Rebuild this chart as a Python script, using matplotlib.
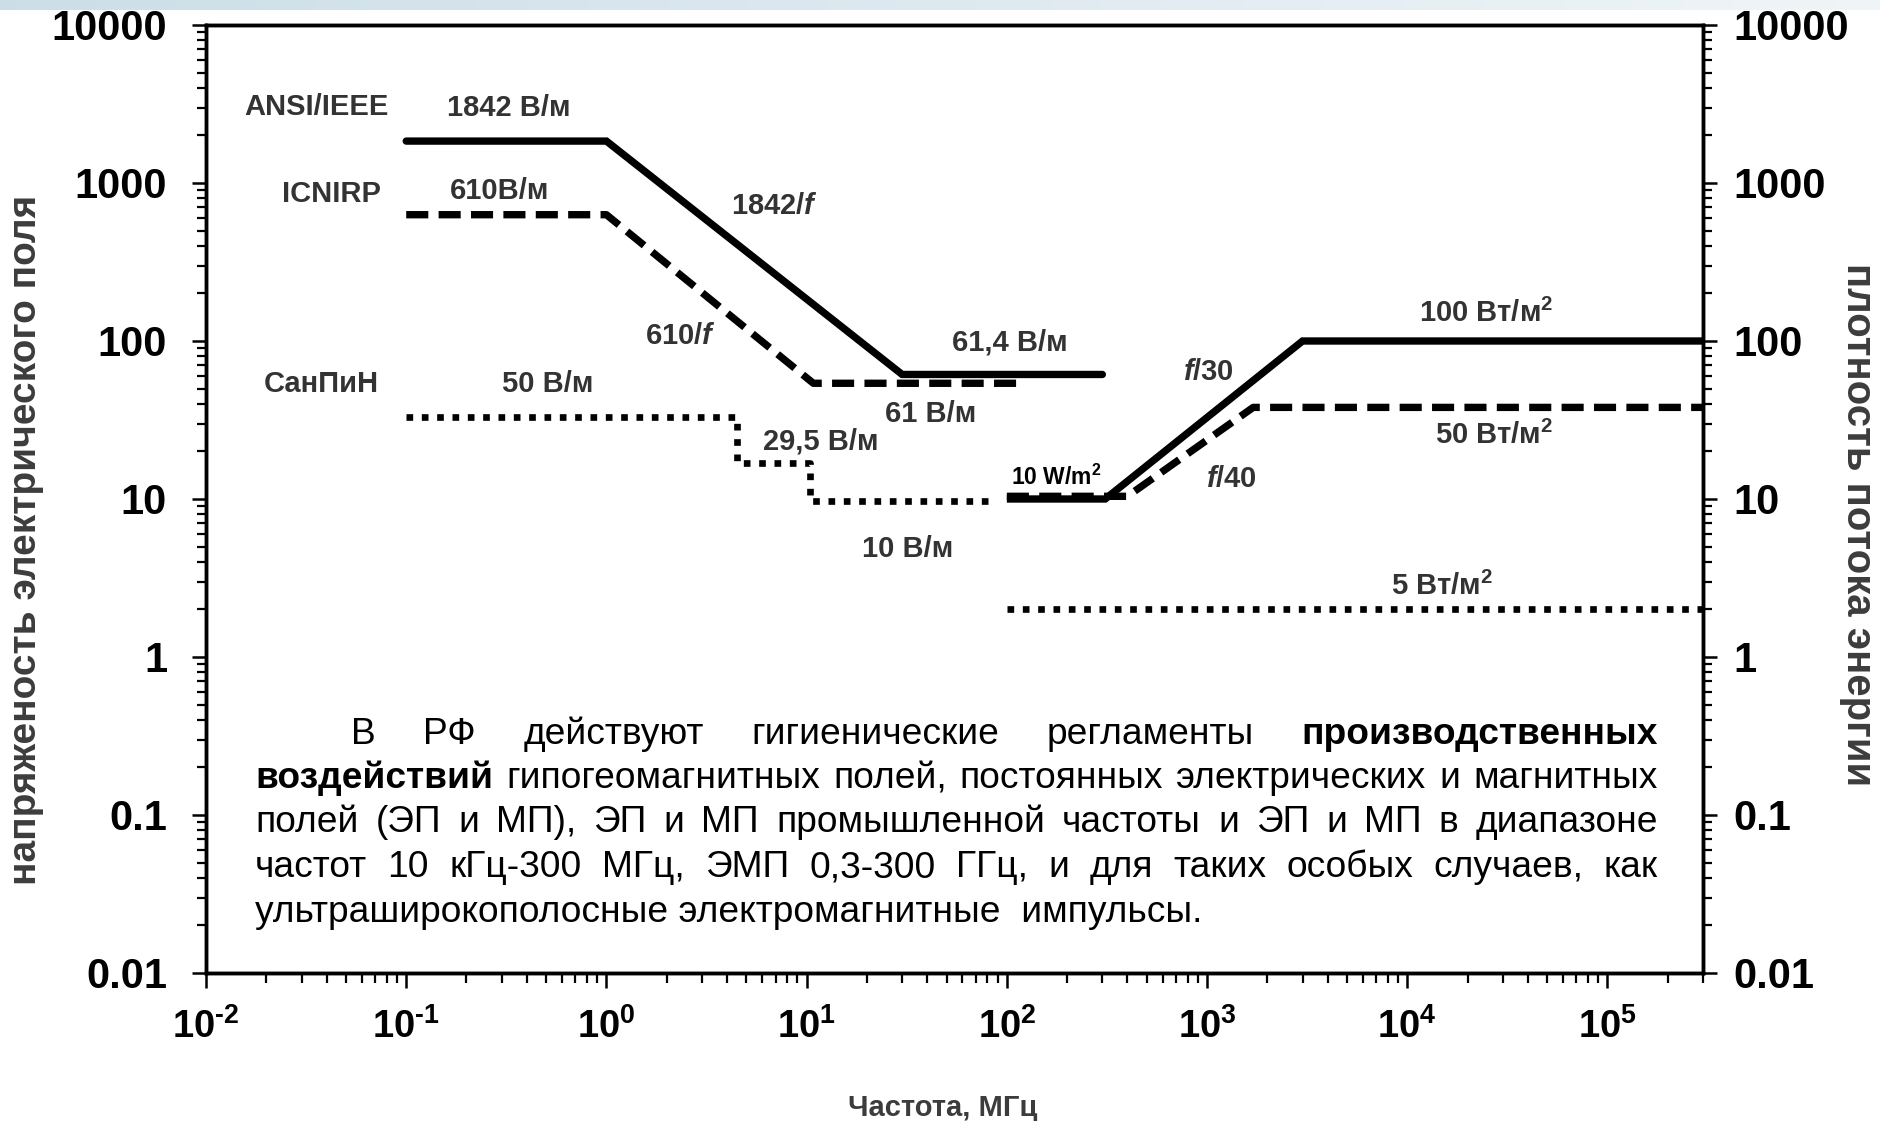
import matplotlib
matplotlib.use('Agg')
import matplotlib.pyplot as plt
import numpy as np
from matplotlib.ticker import FixedLocator, LogLocator, FuncFormatter, NullFormatter

plt.rcParams['font.family'] = ['Liberation Sans', 'DejaVu Sans']
plt.rcParams['mathtext.fontset'] = 'custom'
plt.rcParams['mathtext.rm'] = 'Liberation Sans:bold'
plt.rcParams['mathtext.bf'] = 'Liberation Sans:bold'
plt.rcParams['mathtext.it'] = 'Liberation Sans:bold:italic'
plt.rcParams['mathtext.default'] = 'rm'

# ---------------- data ----------------
freq_ansi_e = [0.1, 1, 30, 300]
e_ansi = [1842, 1842, 61.4, 61.4]
freq_icnirp_e = [0.1, 1, 10.8, 120]
e_icnirp = [630, 630, 54, 54]
freq_sanpin_e = [0.1, 4.5, 4.5, 10.4, 10.4, 82]
e_sanpin = [33, 33, 17, 17, 9.7, 9.7]

freq_ansi_s = [100, 310, 3000, 3.0e5]
s_ansi = [10, 10, 100, 100]
freq_icnirp_s = [100, 400, 1700, 3.0e5]
s_icnirp = [10.4, 10.4, 38, 38]
freq_sanpin_s = [100, 3.0e5]
s_sanpin = [2, 2]

y_ticks = [0.01, 0.1, 1, 10, 100, 1000, 10000]
y_tick_labels = ['0.01', '0.1', '1', '10', '100', '1000', '10000']
x_ticks = [1e-2, 1e-1, 1e0, 1e1, 1e2, 1e3, 1e4, 1e5]

labels = [
    ("ANSI/IEEE", 0.0358, 3040),
    ("1842 В/м", 0.325, 2990),
    ("ICNIRP", 0.0423, 847),
    ("610В/м", 0.291, 893),
    ("1842/$\\mathit{f}$", 6.88, 711),
    ("610/$\\mathit{f}$", 2.33, 107),
    ("61,4 В/м", 104, 98),
    ("61 В/м", 41.7, 34.4),
    ("СанПиН", 0.0378, 53.2),
    ("50 В/м", 0.507, 53.2),
    ("29,5 В/м", 11.8, 23.0),
    ("10 В/м", 32.1, 4.83),
    ("$\\mathit{f}$/30", 1014, 63.4),
    ("$\\mathit{f}$/40", 1320, 13.3),
    ("100 Вт/м$^{2}$", 24660, 150),
    ("50 Вт/м$^{2}$", 27160, 25.1),
    ("5 Вт/м$^{2}$", 14960, 2.81),
]

para_lines = [
    [("В", 0), ("РФ", 0), ("действуют", 0), ("гигиенические", 0), ("регламенты", 0), ("производственных", 1)],
    [("воздействий", 1), ("гипогеомагнитных", 0), ("полей,", 0), ("постоянных", 0), ("электрических", 0), ("и", 0), ("магнитных", 0)],
    [("полей", 0), ("(ЭП", 0), ("и", 0), ("МП),", 0), ("ЭП", 0), ("и", 0), ("МП", 0), ("промышленной", 0), ("частоты", 0),
     ("и", 0), ("ЭП", 0), ("и", 0), ("МП", 0), ("в", 0), ("диапазоне", 0)],
    [("частот", 0), ("10", 0), ("кГц-300", 0), ("МГц,", 0), ("ЭМП", 0), ("0,3-300", 0), ("ГГц,", 0), ("и", 0), ("для", 0),
     ("таких", 0), ("особых", 0), ("случаев,", 0), ("как", 0)],
]
para_last = "ультраширокополосные электромагнитные  импульсы."

# ---------------- figure ----------------
W, H = 1881, 1121
fig = plt.figure(figsize=(W / 100, H / 100), dpi=100)
fig.patch.set_facecolor('white')

# top banner gradient
bax = fig.add_axes([0, 1 - 10 / H, 1, 10 / H])
grad = np.linspace(0, 1, 256)
c0 = np.array([0.80, 0.87, 0.91])
c1 = np.array([0.94, 0.96, 0.97])
img = c0[None, None, :] * (1 - grad)[None, :, None] + c1[None, None, :] * grad[None, :, None]
bax.imshow(img, aspect='auto', extent=[0, 1, 0, 1])
bax.axis('off')

L, R, T, B = 206, 1703, 25, 973
ax = fig.add_axes([L / W, 1 - B / H, (R - L) / W, (B - T) / H])
ax.set_xscale('log')
ax.set_yscale('log')
ax.set_xlim(1e-2, 3.0e5)
ax.set_ylim(0.01, 10000)

lw = 5.3
dash = (0, (3.0, 1.4))
dot = (0, (1, 1.3))
ax.plot(freq_ansi_e, e_ansi, color='black', lw=lw, solid_capstyle='round', solid_joinstyle='miter')
ax.plot(freq_icnirp_e, e_icnirp, color='black', lw=lw, linestyle=dash, dash_capstyle='butt')
ax.plot(freq_sanpin_e, e_sanpin, color='black', lw=4.8, linestyle=dot, dash_capstyle='butt')
ax.plot(freq_ansi_s, s_ansi, color='black', lw=lw, solid_capstyle='butt', solid_joinstyle='miter')
ax.plot(freq_icnirp_s, s_icnirp, color='black', lw=lw, linestyle=dash, dash_capstyle='butt')
ax.plot(freq_sanpin_s, s_sanpin, color='black', lw=4.8, linestyle=dot, dash_capstyle='butt')

lab_color = '#333333'
for txt, xx, yy in labels:
    ax.text(xx, yy, txt, ha='center', va='center', fontsize=21, fontweight='bold', color=lab_color)
ax.text(177, 13.8, "10 W/m$^{2}$", ha='center', va='center', fontsize=16.5, fontweight='bold', color='black')

# spines / ticks
for s in ax.spines.values():
    s.set_linewidth(2.5)
ax.xaxis.set_major_locator(FixedLocator(x_ticks))
ax.xaxis.set_minor_locator(LogLocator(base=10, subs=np.arange(2, 10), numticks=50))
ax.xaxis.set_major_formatter(FuncFormatter(
    lambda v, p: r'$10^{%s}$' % str(int(round(np.log10(v)))).replace('-', '\u2010')))
ax.xaxis.set_minor_formatter(NullFormatter())
ax.yaxis.set_major_locator(FixedLocator(y_ticks))
ax.yaxis.set_major_formatter(FuncFormatter(
    lambda v, p: y_tick_labels[int(np.argmin([abs(np.log10(t) - np.log10(v)) for t in y_ticks]))]))
ax.yaxis.set_minor_locator(LogLocator(base=10, subs=np.arange(2, 10), numticks=50))
ax.yaxis.set_minor_formatter(NullFormatter())
ax.tick_params(axis='x', which='major', direction='out', length=11, width=1.8, pad=14, labelsize=27.5)
ax.tick_params(axis='x', which='minor', direction='out', length=7, width=1.6)
ax.tick_params(axis='y', which='major', direction='out', length=10, width=1.8, pad=18, labelsize=30)
ax.tick_params(axis='y', which='minor', direction='out', length=6.5, width=1.6)
for lab in ax.get_yticklabels():
    lab.set_fontweight('bold')

ax2 = ax.twinx()
ax2.set_yscale('log')
ax2.set_ylim(0.01, 10000)
ax2.yaxis.set_major_locator(FixedLocator(y_ticks))
ax2.yaxis.set_major_formatter(FuncFormatter(
    lambda v, p: y_tick_labels[int(np.argmin([abs(np.log10(t) - np.log10(v)) for t in y_ticks]))]))
ax2.yaxis.set_minor_locator(LogLocator(base=10, subs=np.arange(2, 10), numticks=50))
ax2.yaxis.set_minor_formatter(NullFormatter())
ax2.tick_params(axis='y', which='major', direction='out', length=10, width=1.8, pad=12, labelsize=30)
ax2.tick_params(axis='y', which='minor', direction='out', length=6.5, width=1.6)
for lab in ax2.get_yticklabels():
    lab.set_fontweight('bold')
for s in ax2.spines.values():
    s.set_linewidth(2.5)

# axis titles
axis_col = '#3c3c3c'
fig.text(26 / W, 1 - 540 / H, "напряженость электрического поля", rotation=90, ha='center', va='center',
         fontsize=28, fontweight='bold', color=axis_col)
fig.text(1858 / W, 1 - 525 / H, "плотность потока энергии", rotation=-90, ha='center', va='center',
         fontsize=29, fontweight='bold', color=axis_col)
fig.text(943 / W, 1 - 1108 / H, "Частота, МГц", ha='center', va='center',
         fontsize=21, fontweight='bold', color=axis_col)

# justified paragraph
fig.canvas.draw()
renderer = fig.canvas.get_renderer()


def text_width(s, size, weight):
    t = fig.text(0, 0, s, fontsize=size, fontweight=weight)
    w = t.get_window_extent(renderer).width
    t.remove()
    return w

target_last = 946.0
fs = 25 * target_last / text_width(para_last, 25, 'normal')
em = fs * 100 / 72.0
left_x, indent_x, right_x = 255, 351, 1658
centers = [731, 775, 819, 864, 909]
for i, words in enumerate(para_lines):
    x0 = indent_x if i == 0 else left_x
    widths = [text_width(w, fs, 'bold' if b else 'normal') for w, b in words]
    gap = (right_x - x0 - sum(widths)) / (len(words) - 1)
    base = centers[i] + 0.36 * em
    x = x0
    for (w, b), wd in zip(words, widths):
        fig.text(x / W, 1 - base / H, w, fontsize=fs, fontweight='bold' if b else 'normal',
                 ha='left', va='baseline', color='black')
        x += wd + gap
fig.text(left_x / W, 1 - (centers[4] + 0.36 * em) / H, para_last, fontsize=fs, ha='left', va='baseline', color='black')

fig.savefig('out.png', dpi=100, facecolor='white')
